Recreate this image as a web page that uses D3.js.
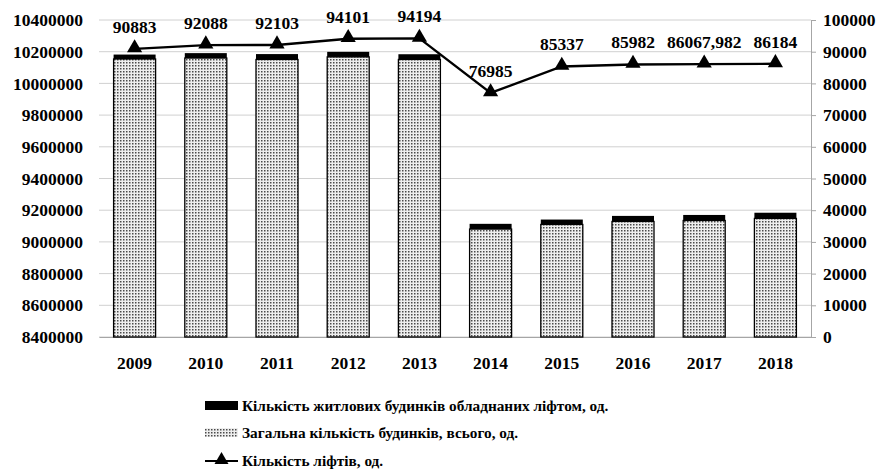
<!DOCTYPE html>
<html>
<head>
<meta charset="utf-8">
<script src="https://cdn.jsdelivr.net/npm/d3@7"></script>
<style>
  body { margin: 0; background: #fff; }
  text { font-family: "Liberation Serif", "Times New Roman", serif; font-weight: bold; }
</style>
</head>
<body>
<div id="chart"></div>
<script>
// Data
var years = ["2009", "2010", "2011", "2012", "2013", "2014", "2015", "2016", "2017", "2018"];
var totalBuildings = [10154000, 10160000, 10151000, 10167000, 10151000, 9081000, 9110000, 9129000, 9135000, 9148000];
var liftBuildings = [28000, 31000, 34000, 32000, 33000, 33000, 31000, 35000, 35000, 36000];
var lifts = [90883, 92088, 92103, 94101, 94194, 76985, 85337, 85982, 86067.982, 86184];
var liftLabels = ["90883", "92088", "92103", "94101", "94194", "76985", "85337", "85982", "86067,982", "86184"];
var leftTicks = d3.range(8400000, 10400001, 200000);
var rightTicks = d3.range(0, 100001, 10000);

var svgWidth = 879;
var svgHeight = 470;

var margin = { top: 20, bottom: 133, right: 68, left: 99 };
var width = svgWidth - margin.left - margin.right;
var height = svgHeight - margin.top - margin.bottom;

var svg = d3.select("#chart")
  .append("svg")
  .attr("width", svgWidth)
  .attr("height", svgHeight);

// dotted fill for the total buildings bars
var defs = svg.append("defs");
var pat = defs.append("pattern")
  .attr("id", "dots")
  .attr("patternUnits", "userSpaceOnUse")
  .attr("width", 3)
  .attr("height", 3);
pat.append("rect").attr("width", 3).attr("height", 3).attr("fill", "#eeeeee");
pat.append("rect").attr("width", 1.5).attr("height", 1.5).attr("fill", "#4a4a4a");

var chartGroup = svg.append("g")
  .attr("transform", `translate(${margin.left}, ${margin.top})`);

var x = d3.scaleBand()
  .domain(years)
  .range([0, width])
  .paddingInner(0.41)
  .paddingOuter(0.205);

var yLeft = d3.scaleLinear()
  .domain([8400000, 10400000])
  .range([height, 0]);

var yRight = d3.scaleLinear()
  .domain([0, 100000])
  .range([height, 0]);

// gridlines
chartGroup.append("g")
  .selectAll("line")
  .data(leftTicks)
  .enter()
  .append("line")
  .attr("x1", 0)
  .attr("x2", width)
  .attr("y1", d => yLeft(d))
  .attr("y2", d => yLeft(d))
  .attr("stroke", "#d0d0d0")
  .attr("stroke-width", 1);

// left axis (labels only)
var leftAxis = d3.axisLeft(yLeft).tickValues(leftTicks).tickSize(0).tickPadding(16).tickFormat(d3.format("d"));
var gl = chartGroup.append("g").call(leftAxis);
gl.select(".domain").remove();
gl.selectAll("text").style("font-size", "17.5px").attr("fill", "#000");

// right axis
var rightAxis = d3.axisRight(yRight).tickValues(rightTicks).tickSize(5).tickPadding(7).tickFormat(d3.format("d"));
var gr = chartGroup.append("g")
  .attr("transform", `translate(${width}, 0)`)
  .call(rightAxis);
gr.select(".domain").attr("stroke", "#a6a6a6");
gr.selectAll(".tick line").attr("stroke", "#a6a6a6");
gr.selectAll("text").style("font-size", "17.5px").attr("fill", "#000");

// bottom axis
var bottomAxis = d3.axisBottom(x).tickSize(0).tickPadding(20);
var gb = chartGroup.append("g")
  .attr("transform", `translate(0, ${height})`)
  .call(bottomAxis);
gb.select(".domain").attr("stroke", "#a6a6a6");
gb.selectAll("text").style("font-size", "17.5px").attr("fill", "#000");

// bars: total buildings
chartGroup.append("g")
  .selectAll("rect")
  .data(years)
  .enter()
  .append("rect")
  .attr("x", d => x(d))
  .attr("width", x.bandwidth())
  .attr("y", (d, i) => yLeft(totalBuildings[i]))
  .attr("height", (d, i) => yLeft(8400000) - yLeft(totalBuildings[i]))
  .attr("fill", "url(#dots)")
  .attr("stroke", "#000")
  .attr("stroke-width", 1.3);

// bars: buildings with lifts stacked on top
chartGroup.append("g")
  .selectAll("rect")
  .data(years)
  .enter()
  .append("rect")
  .attr("x", d => x(d))
  .attr("width", x.bandwidth())
  .attr("y", (d, i) => yLeft(totalBuildings[i] + liftBuildings[i]))
  .attr("height", (d, i) => yLeft(totalBuildings[i]) - yLeft(totalBuildings[i] + liftBuildings[i]))
  .attr("fill", "#000");

// line: lifts
var line = d3.line()
  .x((d, i) => x(years[i]) + x.bandwidth() / 2)
  .y(d => yRight(d));

chartGroup.append("path")
  .datum(lifts)
  .attr("d", line)
  .attr("fill", "none")
  .attr("stroke", "#000")
  .attr("stroke-width", 2.4);

var tri = d3.symbol().type(d3.symbolTriangle).size(100);

chartGroup.append("g")
  .selectAll("path")
  .data(lifts)
  .enter()
  .append("path")
  .attr("d", tri)
  .attr("transform", (d, i) => `translate(${x(years[i]) + x.bandwidth() / 2}, ${yRight(d) - 1})`)
  .attr("fill", "#000");

chartGroup.append("g")
  .selectAll("text")
  .data(lifts)
  .enter()
  .append("text")
  .attr("x", (d, i) => x(years[i]) + x.bandwidth() / 2)
  .attr("y", d => yRight(d) - 16)
  .attr("text-anchor", "middle")
  .style("font-size", "17.5px")
  .text((d, i) => liftLabels[i]);

// legend
var legend = svg.append("g").attr("transform", "translate(205, 0)");

legend.append("rect")
  .attr("x", 0).attr("y", 401)
  .attr("width", 33).attr("height", 9)
  .attr("fill", "#000");
legend.append("text")
  .attr("x", 37).attr("y", 411)
  .style("font-size", "15.3px")
  .text("Кількість житлових будинків обладнаних ліфтом, од.");

legend.append("rect")
  .attr("x", 0).attr("y", 428)
  .attr("width", 33).attr("height", 9)
  .attr("fill", "url(#dots)");
legend.append("text")
  .attr("x", 37).attr("y", 438)
  .style("font-size", "15.3px")
  .text("Загальна кількість будинків, всього, од.");

legend.append("line")
  .attr("x1", 0).attr("x2", 33)
  .attr("y1", 461).attr("y2", 461)
  .attr("stroke", "#000")
  .attr("stroke-width", 2);
legend.append("path")
  .attr("d", d3.symbol().type(d3.symbolTriangle).size(85))
  .attr("transform", "translate(16.5, 460)")
  .attr("fill", "#000");
legend.append("text")
  .attr("x", 37).attr("y", 466)
  .style("font-size", "15.3px")
  .text("Кількість ліфтів, од.");
</script>
</body>
</html>
